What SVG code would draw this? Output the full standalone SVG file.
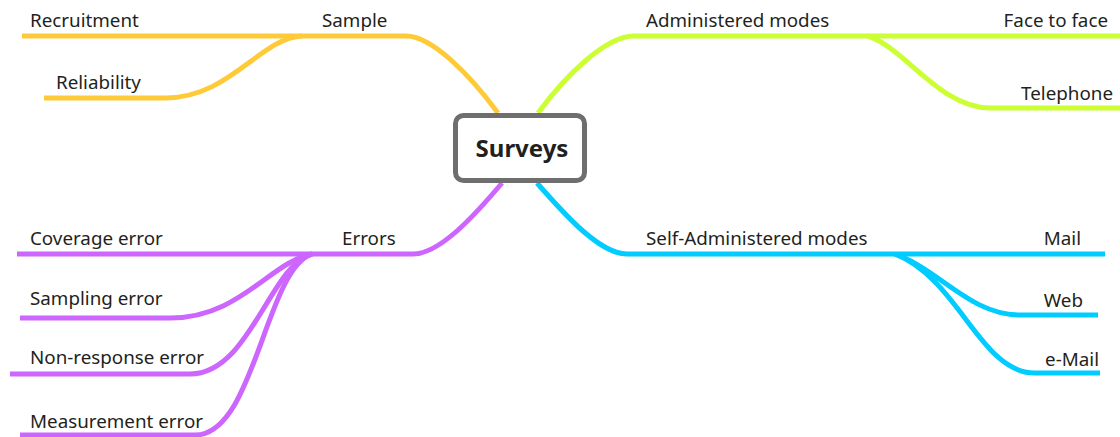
<svg xmlns="http://www.w3.org/2000/svg" width="1120" height="437" viewBox="0 0 1120 437">
<style>
.c{fill:none;stroke-width:5;stroke-linecap:butt;stroke-linejoin:round}
.y{stroke:#FFCA38}.g{stroke:#CCFF33}.p{stroke:#CC66FF}.b{stroke:#00CCFF}
text{font-family:"Noto Sans","Liberation Sans",sans-serif;font-size:18.8px;fill:#231F20}
.e{text-anchor:end}
.hub rect{fill:#fff;stroke:#6E6E6E;stroke-width:5}
.hub text{font-weight:bold;font-size:24px;text-anchor:middle}
</style>
<g id="connectors">
<path class="c y" d="M498 113 C470 75 432 36 406 36 L22 36"/>
<path class="c y" d="M302 36 C260 38 230 98 165 98 L44 98"/>
<path class="c g" d="M538 113 C566 75 606 36 634 36 L1120 36"/>
<path class="c g" d="M868 36 C905 48 940 108 990 108 L1120 108"/>
<path class="c p" d="M502 183 C475 215 440 254 413 254 L17 254"/>
<path class="c p" d="M312 254 C270 262 240 318 170 318 L20 318"/>
<path class="c p" d="M312 254 C270 265 250 374 190 374 L10 374"/>
<path class="c p" d="M312 254 C265 270 255 435 195 435 L20 435"/>
<path class="c b" d="M537 183 C565 215 600 254 627 254 L1105 254"/>
<path class="c b" d="M895 254 C940 270 970 315 1020 315 L1098 315"/>
<path class="c b" d="M895 254 C960 280 980 373 1035 373 L1100 373"/>
</g>
<g id="surveys" class="hub"><rect x="455.5" y="115.5" width="129" height="65" rx="8"/><text x="522" y="157">Surveys</text></g>
<g id="sample"><text x="322" y="27">Sample</text></g>
<g id="recruitment"><text x="30" y="27">Recruitment</text></g>
<g id="reliability"><text x="56" y="89">Reliability</text></g>
<g id="administered"><text x="646" y="27">Administered modes</text></g>
<g id="face"><text class="e" x="1108" y="27">Face to face</text></g>
<g id="telephone"><text class="e" x="1113" y="100">Telephone</text></g>
<g id="errors"><text x="342" y="245">Errors</text></g>
<g id="coverage"><text x="30" y="245">Coverage error</text></g>
<g id="sampling"><text x="30" y="305">Sampling error</text></g>
<g id="nonresponse"><text x="30" y="364">Non-response error</text></g>
<g id="measurement"><text x="30" y="428">Measurement error</text></g>
<g id="selfadmin"><text x="646" y="245">Self-Administered modes</text></g>
<g id="mail"><text class="e" x="1081" y="245">Mail</text></g>
<g id="web"><text class="e" x="1083" y="307">Web</text></g>
<g id="email"><text class="e" x="1099" y="366">e-Mail</text></g>
</svg>
